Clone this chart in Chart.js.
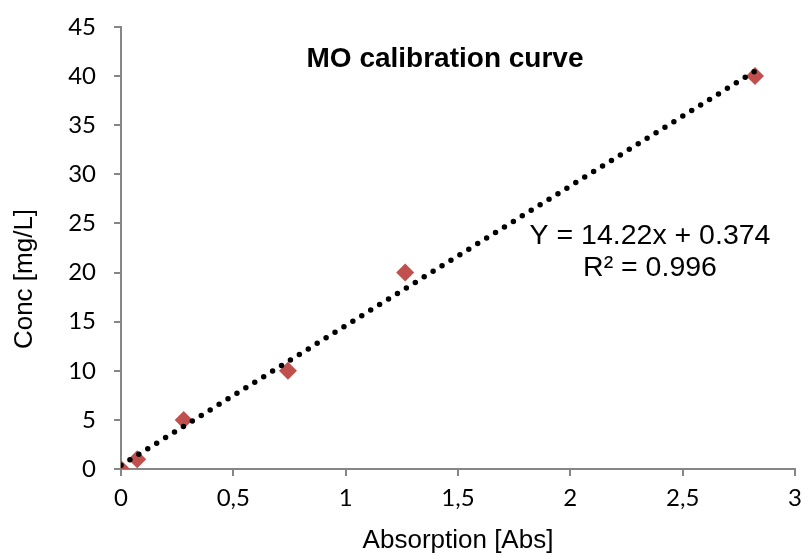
<!DOCTYPE html>
<html>
<head>
<meta charset="utf-8">
<script src="https://cdn.jsdelivr.net/npm/chart.js@4/dist/chart.umd.min.js"></script>
<style>
  html, body { margin: 0; padding: 0; background: #ffffff; }
  #wrap { width: 804px; height: 556px; position: relative; }
</style>
</head>
<body>
<div id="wrap"><canvas id="c" width="804" height="556"></canvas></div>
<script>
// ---- data ----
const absorption = [0, 0.072, 0.279, 0.743, 1.265, 2.822];
const concentration = [0, 1, 5, 10, 20, 40];
const trendX = [0, 2.822];
const trendY = [0.374, 40.50];
const xTickLabels = ['0', '0,5', '1', '1,5', '2', '2,5', '3'];
const yTickLabels = ['0', '5', '10', '15', '20', '25', '30', '35', '40', '45'];
const chartTitle = 'MO calibration curve';
const xTitle = 'Absorption [Abs]';
const yTitle = 'Conc [mg/L]';
const equationLines = ['Y = 14.22x + 0.374', 'R\u00B2 = 0.996'];

const measured = absorption.map((x, i) => ({ x: x, y: concentration[i] }));
const trend = trendX.map((x, i) => ({ x: x, y: trendY[i] }));

const textPlugin = {
  id: 'texts',
  afterDraw(chart) {
    const ctx = chart.ctx;
    ctx.save();
    ctx.fillStyle = '#000000';
    ctx.font = 'bold 28px "Liberation Sans", Arial, sans-serif';
    ctx.textAlign = 'center';
    ctx.textBaseline = 'alphabetic';
    ctx.fillText(chartTitle, 445, 67);
    ctx.font = '28.5px "Liberation Sans", Arial, sans-serif';
    ctx.fillText(equationLines[0], 650, 244);
    ctx.fillText(equationLines[1], 650, 276);
    ctx.translate(25, 279);
    ctx.rotate(-Math.PI / 2);
    ctx.font = '26px "Liberation Sans", Arial, sans-serif';
    ctx.textBaseline = 'middle';
    ctx.fillText(yTitle, 0, 0);
    ctx.restore();
  }
};

new Chart(document.getElementById('c'), {
  type: 'scatter',
  data: {
    datasets: [
      {
        label: 'Trendline',
        type: 'line',
        data: trend,
        order: 0,
        borderColor: '#000000',
        borderWidth: 5.5,
        borderDash: [0, 10.5],
        borderCapStyle: 'round',
        pointRadius: 0,
        fill: false,
        tension: 0
      },
      {
        label: 'Conc',
        data: measured,
        order: 1,
        pointStyle: 'rectRot',
        pointRadius: 9,
        pointHoverRadius: 9,
        pointBackgroundColor: '#C0504D',
        pointBorderColor: '#C0504D',
        pointBorderWidth: 0
      }
    ]
  },
  options: {
    responsive: false,
    animation: false,
    events: [],
    layout: { padding: { left: 0, top: 27, right: 5, bottom: 0 } },
    plugins: {
      legend: { display: false },
      tooltip: { enabled: false },
      title: { display: false }
    },
    scales: {
      x: {
        type: 'linear',
        min: 0,
        max: 3,
        ticks: {
          stepSize: 0.5,
          padding: 8,
          color: '#000000',
          font: { family: 'Lato', size: 24 },
          maxRotation: 0,
          callback: (v, i) => xTickLabels[i]
        },
        grid: { drawOnChartArea: false, drawTicks: true, tickLength: 7, color: '#868686', lineWidth: 2 },
        border: { color: '#868686', width: 2 },
        title: {
          display: true,
          text: xTitle,
          color: '#000000',
          font: { family: '"Liberation Sans", Arial, sans-serif', size: 26 },
          padding: { top: 0, bottom: 0 }
        },
        afterFit(scale) {
          scale.height = 87;
          scale.paddingLeft = 0;
          scale.paddingRight = 0;
        }
      },
      y: {
        type: 'linear',
        min: 0,
        max: 45,
        ticks: {
          stepSize: 5,
          padding: 18,
          color: '#000000',
          font: { family: 'Lato', size: 24 },
          callback: (v, i) => yTickLabels[i]
        },
        grid: { drawOnChartArea: false, drawTicks: true, tickLength: 7, color: '#868686', lineWidth: 2 },
        border: { color: '#868686', width: 2 },
        afterFit(scale) {
          scale.width = 121;
          scale.paddingTop = 0;
          scale.paddingBottom = 0;
        }
      }
    }
  },
  plugins: [textPlugin]
});
</script>
</body>
</html>
